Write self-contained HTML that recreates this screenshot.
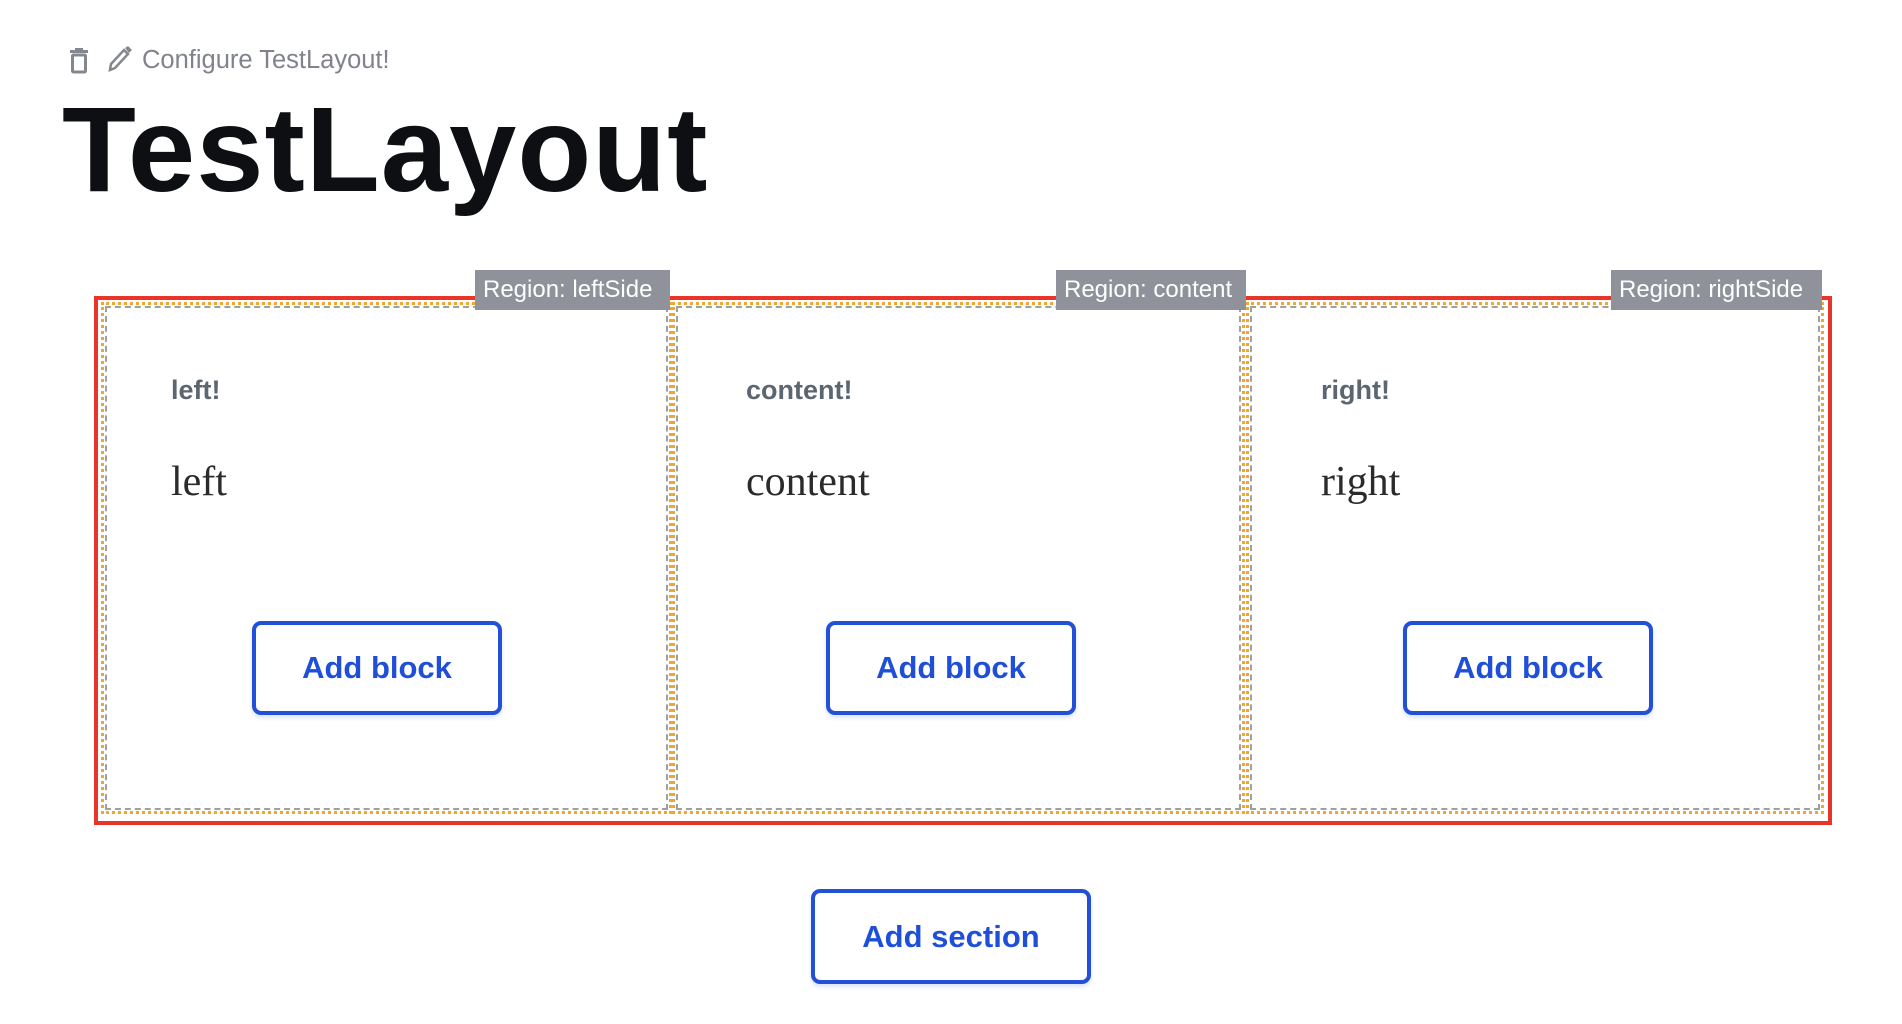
<!DOCTYPE html>
<html><head><meta charset="utf-8"><style>
body{margin:0;width:1902px;height:1024px;background:#fff;position:relative;overflow:hidden;font-family:"Liberation Sans",sans-serif}
.abs{position:absolute}
.cfg{left:142px;top:46px;font-size:25.5px;color:#81838c}
h1{position:absolute;left:62px;top:84px;margin:0;font-size:121px;font-weight:bold;color:#0d0f12;letter-spacing:1px;line-height:130px}
.red{left:94px;top:296px;width:1730px;height:521px;border:4px solid #e8352a}
.reg{top:302px;height:512px;width:573px;border:3px dotted #f2a531;box-sizing:border-box}
.reg::after{content:"";position:absolute;left:1px;top:1px;right:1px;bottom:1px;border:2px dashed #a0a0a0}
.lbl{top:270px;height:40px;background:#8f929a;color:#fff;font-size:24px;line-height:40px;padding:0 8px;box-sizing:border-box;white-space:nowrap}
.h{font-size:27px;font-weight:bold;color:#5b6671;top:375px}
.s{font-family:"Liberation Serif",serif;font-size:42px;color:#2b2b2b;top:458px}
.btn{border:4px solid #2350d8;border-radius:9px;color:#1f4fd8;font-weight:bold;font-size:31px;display:flex;align-items:center;justify-content:center;box-sizing:border-box;box-shadow:0 3px 4px rgba(35,80,216,.15)}
</style></head><body>
<svg class="abs" style="left:68px;top:48px" width="22" height="26" viewBox="0 0 22 26"><rect x="2" y="2" width="18" height="3" fill="#85878f"/><rect x="7" y="0" width="8" height="3" fill="#85878f"/><rect x="4.5" y="7" width="13" height="17" fill="none" stroke="#85878f" stroke-width="3" rx="1"/></svg>
<svg class="abs" style="left:106px;top:46px" width="26" height="28" viewBox="0 0 26 28"><path d="M4 24 L5 18 L18 4 L22 8 L9 22 Z" fill="none" stroke="#85878f" stroke-width="2.5"/><path d="M19 2 L22 0 L26 4 L23 7 Z" fill="#85878f"/></svg>
<div class="abs cfg">Configure TestLayout!</div>
<h1>TestLayout</h1>
<div class="abs red"></div>
<div class="abs reg" style="left:101px;width:571px"></div>
<div class="abs reg" style="left:672px"></div>
<div class="abs reg" style="left:1246px;width:578px"></div>
<div class="abs lbl" style="left:475px;width:195px">Region: leftSide</div>
<div class="abs lbl" style="left:1056px;width:190px">Region: content</div>
<div class="abs lbl" style="left:1611px;width:211px">Region: rightSide</div>
<div class="abs h" style="left:171px">left!</div>
<div class="abs h" style="left:746px">content!</div>
<div class="abs h" style="left:1321px">right!</div>
<div class="abs s" style="left:171px">left</div>
<div class="abs s" style="left:746px">content</div>
<div class="abs s" style="left:1321px">right</div>
<div class="abs btn" style="left:252px;top:621px;width:250px;height:94px">Add block</div>
<div class="abs btn" style="left:826px;top:621px;width:250px;height:94px">Add block</div>
<div class="abs btn" style="left:1403px;top:621px;width:250px;height:94px">Add block</div>
<div class="abs btn" style="left:811px;top:889px;width:280px;height:95px">Add section</div>
</body></html>
